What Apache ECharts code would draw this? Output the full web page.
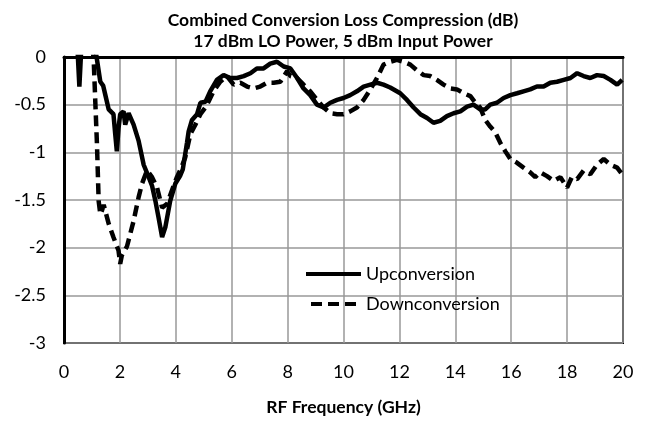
<!DOCTYPE html>
<html>
<head>
<meta charset="utf-8">
<style>
  html, body { margin: 0; padding: 0; background: #fff; }
  #chart { width: 647px; height: 421px; }
</style>
<script src="https://cdn.jsdelivr.net/npm/echarts@6/dist/echarts.min.js"></script>
</head>
<body>
<div id="chart"></div>
<script>
// values (GHz, dB)
const upFreq = [0.48, 0.55, 0.62, 1.12, 1.17, 1.30, 1.40, 1.48, 1.60, 1.77, 1.83, 1.89, 1.95, 2.01, 2.13, 2.19, 2.31, 2.49, 2.67, 2.85, 3.03, 3.15, 3.27, 3.38, 3.51, 3.57, 3.63, 3.80, 3.98, 4.15, 4.25, 4.40, 4.46, 4.58, 4.76, 4.88, 5.06, 5.23, 5.47, 5.71, 5.95, 6.19, 6.43, 6.67, 6.90, 7.14, 7.38, 7.62, 7.86, 8.10, 8.34, 8.57, 8.81, 9.05, 9.29, 9.53, 9.77, 10.0, 10.24, 10.48, 10.72, 10.96, 11.20, 11.43, 11.67, 12.03, 12.27, 12.51, 12.75, 12.99, 13.22, 13.46, 13.70, 13.94, 14.18, 14.42, 14.65, 14.89, 15.07, 15.25, 15.49, 15.73, 15.97, 16.21, 16.44, 16.68, 16.92, 17.16, 17.40, 17.64, 17.88, 18.12, 18.36, 18.59, 18.83, 19.07, 19.31, 19.55, 19.79, 19.97];
const upLoss = [0.1, -0.31, 0.1, 0.1, -0.01, -0.26, -0.30, -0.40, -0.55, -0.60, -0.80, -0.99, -0.75, -0.60, -0.57, -0.71, -0.59, -0.71, -0.88, -1.13, -1.26, -1.35, -1.51, -1.68, -1.89, -1.88, -1.78, -1.51, -1.33, -1.25, -1.18, -0.90, -0.78, -0.66, -0.60, -0.48, -0.47, -0.36, -0.24, -0.19, -0.22, -0.22, -0.20, -0.17, -0.12, -0.12, -0.07, -0.05, -0.10, -0.12, -0.22, -0.33, -0.40, -0.50, -0.53, -0.48, -0.45, -0.43, -0.40, -0.36, -0.31, -0.29, -0.27, -0.29, -0.32, -0.38, -0.45, -0.53, -0.60, -0.64, -0.69, -0.67, -0.62, -0.59, -0.57, -0.52, -0.50, -0.55, -0.55, -0.50, -0.48, -0.43, -0.40, -0.38, -0.36, -0.34, -0.31, -0.31, -0.27, -0.26, -0.24, -0.22, -0.17, -0.20, -0.22, -0.19, -0.20, -0.24, -0.29, -0.24];

const downFreq = [1.00, 1.06, 1.12, 1.18, 1.24, 1.30, 1.36, 1.42, 1.48, 1.60, 1.77, 1.95, 2.01, 2.07, 2.13, 2.25, 2.49, 2.67, 2.79, 2.97, 3.15, 3.33, 3.51, 3.69, 3.86, 4.04, 4.20, 4.34, 4.52, 4.70, 4.88, 5.06, 5.17, 5.35, 5.59, 5.83, 6.07, 6.31, 6.55, 6.78, 7.02, 7.26, 7.50, 7.74, 7.98, 8.10, 8.34, 8.57, 8.81, 9.05, 9.29, 9.53, 9.77, 10.0, 10.24, 10.48, 10.72, 10.96, 11.20, 11.43, 11.67, 11.91, 12.15, 12.39, 12.63, 12.87, 13.10, 13.34, 13.58, 13.82, 14.06, 14.30, 14.54, 14.72, 14.89, 15.07, 15.25, 15.43, 15.61, 15.79, 15.97, 16.21, 16.44, 16.68, 16.86, 17.04, 17.28, 17.52, 17.76, 18.00, 18.17, 18.36, 18.59, 18.83, 19.07, 19.31, 19.55, 19.79, 19.97];
const downLoss = [0.1, -0.01, -0.47, -0.92, -1.51, -1.65, -1.61, -1.55, -1.54, -1.75, -1.89, -2.03, -2.17, -2.08, -2.10, -1.99, -1.72, -1.47, -1.33, -1.19, -1.26, -1.37, -1.58, -1.54, -1.40, -1.26, -1.16, -1.05, -0.81, -0.71, -0.60, -0.53, -0.47, -0.36, -0.26, -0.20, -0.29, -0.27, -0.31, -0.33, -0.31, -0.27, -0.27, -0.26, -0.15, -0.20, -0.22, -0.29, -0.36, -0.45, -0.53, -0.59, -0.60, -0.60, -0.57, -0.53, -0.45, -0.34, -0.22, -0.08, -0.05, -0.03, -0.05, -0.08, -0.14, -0.19, -0.20, -0.24, -0.29, -0.33, -0.34, -0.38, -0.41, -0.48, -0.53, -0.66, -0.73, -0.79, -0.90, -0.99, -1.07, -1.11, -1.16, -1.21, -1.26, -1.21, -1.25, -1.30, -1.26, -1.37, -1.26, -1.28, -1.19, -1.23, -1.13, -1.07, -1.13, -1.16, -1.23];

const font = "Lato, 'Open Sans', sans-serif";

// legend samples: plain bar and three dashes
const solidIcon = "path://M0,0H55V4H0Z";
const dashIcon = "path://M0,0H11V4H0Z M17,0H28V4H17Z M34,0H45V4H34Z";

function pairs(xs, ys) {
  return xs.map((x, i) => [x, ys[i]]);
}

const chart = echarts.init(document.getElementById("chart"));
chart.setOption({
  animation: false,
  title: {
    text: "Combined Conversion Loss Compression (dB)\n17 dBm LO Power, 5 dBm Input Power",
    left: 338,
    top: 5,
    textAlign: "center",
    textStyle: { fontFamily: font, fontSize: 17.5, fontWeight: "bold", color: "#000", lineHeight: 21 },
  },
  legend: {
    orient: "vertical",
    left: 301,
    top: 259,
    itemWidth: 55,
    itemHeight: 4,
    itemGap: 10,
    textStyle: { fontFamily: font, fontSize: 18, color: "#000", lineHeight: 20 },
    data: [
      { name: "Upconversion", icon: solidIcon },
      { name: "Downconversion", icon: dashIcon },
    ],
  },
  grid: {
    left: 64,
    right: 24,
    top: 57,
    bottom: 76,
    show: true,
    borderColor: "#000",
    borderWidth: 2,
  },
  xAxis: {
    type: "value",
    min: 0,
    max: 20,
    interval: 2,
    name: "RF Frequency (GHz)",
    nameLocation: "middle",
    nameGap: 55,
    nameTextStyle: { fontFamily: font, fontSize: 17.5, fontWeight: "bold", color: "#000" },
    axisLine: { lineStyle: { color: "#000", width: 3 } },
    axisTick: { show: false },
    axisLabel: { fontFamily: font, fontSize: 18, color: "#000", margin: 20 },
    splitLine: { lineStyle: { color: "#999", width: 1.5 } },
  },
  yAxis: {
    type: "value",
    min: -3,
    max: 0,
    interval: 0.5,
    axisLine: { show: true, lineStyle: { color: "#000", width: 3 } },
    axisTick: { show: false },
    axisLabel: { fontFamily: font, fontSize: 18, color: "#000", margin: 18 },
    splitLine: { lineStyle: { color: "#999", width: 1.5 } },
  },
  series: [
    {
      name: "Upconversion",
      type: "line",
      symbol: "none",
      data: pairs(upFreq, upLoss),
      lineStyle: { color: "#000", width: 4.5 },
      itemStyle: { color: "#000" },
    },
    {
      name: "Downconversion",
      type: "line",
      symbol: "none",
      data: pairs(downFreq, downLoss),
      lineStyle: { color: "#000", width: 4.5, type: [11, 6] },
      itemStyle: { color: "#000" },
    },
  ],
});
</script>
</body>
</html>
